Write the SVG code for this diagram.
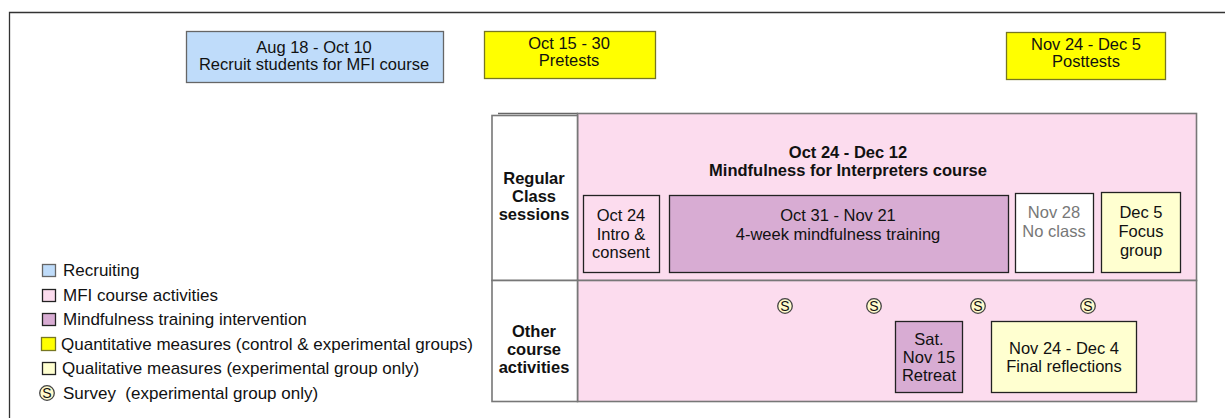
<svg xmlns="http://www.w3.org/2000/svg" width="1225" height="418" viewBox="0 0 1225 418">
<style>
text{font-family:"Liberation Sans",Arial,sans-serif;font-size:16.5px;fill:#111;text-anchor:middle}
.b{font-weight:bold}
.g{fill:#777}
.l{text-anchor:start;font-size:17px}
.box{stroke:#222;stroke-width:1.3}
.gray{stroke:#777;stroke-width:1.6}
.blue{fill:#bfdcfa;stroke:#666;stroke-width:1.3}
.yel{fill:#ffff00;stroke:#777722;stroke-width:1.3}
.lyel{fill:#ffffd0}
.pink{fill:#fcdcee}
.purp{fill:#d8acd3}
.s{font-size:14px}
</style>
<defs>
<g id="svy"><circle r="7.3" fill="#fffacc" stroke="#444" stroke-width="1.3"/><text y="5" class="s">S</text></g>
</defs>
<g id="frame" fill="none" stroke="#333" stroke-width="1.3"><path d="M9.5 418 V12.5 H1225"/></g>
<g id="recruit"><rect class="blue" x="186.5" y="31.5" width="257" height="51"/><text x="314" y="53">Aug 18 - Oct 10</text><text x="314" y="70">Recruit students for MFI course</text></g>
<g id="pretests"><rect class="yel" x="484.5" y="31.5" width="171" height="47"/><text x="569" y="49">Oct 15 - 30</text><text x="569" y="66">Pretests</text></g>
<g id="posttests"><rect class="yel" x="1006.5" y="32.5" width="159" height="47"/><text x="1086" y="50">Nov 24 - Dec 5</text><text x="1086" y="67">Posttests</text></g>
<g id="connectors"><path d="M498 113.5 H578" stroke="#666" stroke-width="1.3" fill="none"/></g>
<g id="course"><rect class="pink gray" x="577.5" y="113.5" width="619" height="167"/><text class="b" x="848" y="158">Oct 24 - Dec 12</text><text class="b" x="848" y="176">Mindfulness for Interpreters course</text></g>
<g id="regular"><rect fill="#fff" class="gray" x="492" y="115.5" width="85.5" height="165"/><text class="b" x="534" y="184">Regular</text><text class="b" x="534" y="202">Class</text><text class="b" x="534" y="220">sessions</text></g>
<g id="oct24"><rect class="pink box" x="583.5" y="195.5" width="76" height="77"/><text x="621" y="221">Oct 24</text><text x="621" y="240">Intro &amp;</text><text x="621" y="258">consent</text></g>
<g id="oct31"><rect class="purp box" x="669.5" y="195.5" width="339" height="77"/><text x="838" y="221">Oct 31 - Nov 21</text><text x="838" y="240">4-week mindfulness training</text></g>
<g id="nov28"><rect fill="#fff" class="box" x="1015.5" y="193.5" width="78" height="79"/><text class="g" x="1054" y="218">Nov 28</text><text class="g" x="1054" y="237">No class</text></g>
<g id="dec5"><rect class="lyel box" x="1101.5" y="192.5" width="79" height="80"/><text x="1141" y="218">Dec 5</text><text x="1141" y="237">Focus</text><text x="1141" y="256">group</text></g>
<g id="other-bg"><rect class="pink gray" x="577.5" y="280.5" width="619" height="121"/></g>
<g id="other"><rect fill="#fff" class="gray" x="492" y="280.5" width="85.5" height="121"/><text class="b" x="534" y="337">Other</text><text class="b" x="534" y="355">course</text><text class="b" x="534" y="373">activities</text></g>
<g id="surveys"><use href="#svy" x="785" y="306"/><use href="#svy" x="874" y="306"/><use href="#svy" x="978" y="306"/><use href="#svy" x="1088" y="306"/></g>
<g id="retreat"><rect class="purp box" x="895.5" y="321.5" width="67" height="71"/><text x="929" y="345">Sat.</text><text x="929" y="363">Nov 15</text><text x="929" y="381">Retreat</text></g>
<g id="final"><rect class="lyel box" x="991.5" y="321.5" width="145" height="71"/><text x="1064" y="354">Nov 24 - Dec 4</text><text x="1064" y="372">Final reflections</text></g>
<g id="legend">
<rect class="blue" x="42.5" y="264.5" width="13" height="12" stroke="#333"/><text class="l" x="63" y="276">Recruiting</text>
<rect class="pink box" x="42.5" y="289.5" width="13" height="12"/><text class="l" x="63" y="301">MFI course activities</text>
<rect class="purp box" x="42.5" y="313.5" width="13" height="12"/><text class="l" x="63" y="325">Mindfulness training intervention</text>
<rect class="yel" x="41.5" y="337.5" width="14" height="13" stroke="#333"/><text class="l" x="61" y="350">Quantitative measures (control &amp; experimental groups)</text>
<rect class="lyel box" x="42.5" y="362.5" width="13" height="12"/><text class="l" x="62" y="374">Qualitative measures (experimental group only)</text>
<use href="#svy" x="47" y="393"/><text class="l" x="63" y="399" xml:space="preserve">Survey  (experimental group only)</text>
</g>
</svg>
